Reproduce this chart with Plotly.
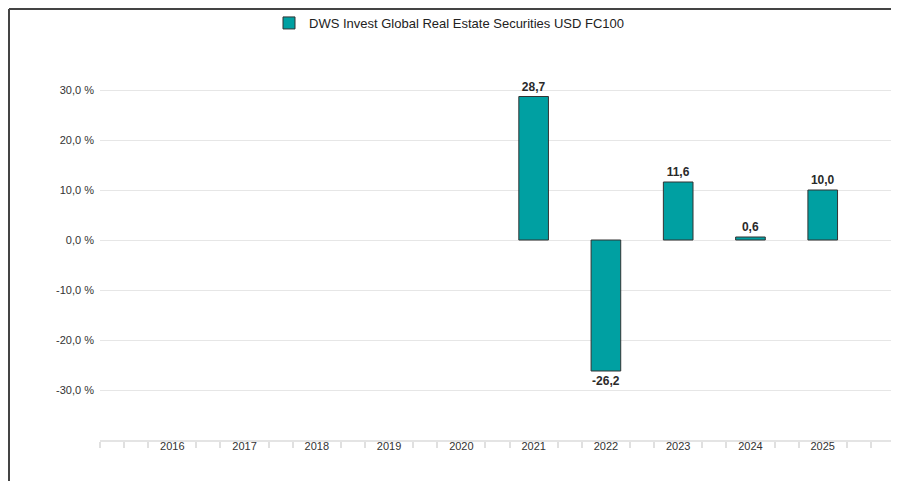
import plotly.graph_objects as go

years = [2016, 2017, 2018, 2019, 2020, 2021, 2022, 2023, 2024, 2025]
returns = [None, None, None, None, None, 28.7, -26.2, 11.6, 0.6, 10.0]
series_name = "DWS Invest Global Real Estate Securities USD FC100"
y_ticks = [-40, -30, -20, -10, 0, 10, 20, 30, 40]

y_text = ["" if abs(v) == 40 else f"{v:.1f}".replace(".", ",") + " %" for v in y_ticks]
x_idx = list(range(len(years)))
minor_vals = [(-3 + k) / 3 for k in range(0, 34) if (-3 + k) % 3 != 0 or (-3 + k) in (-3, 30)]

OFF = 8  # page body margin
W, H = 899 - OFF, 481 - OFF
L, R, T, B = 100 - OFF, 4, 40 - OFF, 41
pw, ph = W - L - R, H - T - B

fig = go.Figure()
fig.add_trace(go.Bar(
    x=x_idx, y=returns, name=series_name,
    marker=dict(color="#00A0A2", line=dict(color="#333333", width=1)),
    width=0.41,
    texttemplate="%{y:.1f}", textposition="outside", cliponaxis=False,
    textfont=dict(family="Liberation Sans, Arial, sans-serif", size=12, color="#2a2a2a", weight="bold"),
    showlegend=True,
))

fig.update_layout(
    width=W, height=H,
    margin=dict(l=L, r=R, t=T, b=B, autoexpand=False),
    paper_bgcolor="white", plot_bgcolor="white",
    separators=", ",
    font=dict(family="Liberation Sans, Arial, sans-serif", size=11, color="#333333"),
    showlegend=True,
    legend=dict(orientation="h", x=(269 - 100) / pw, xanchor="left", y=1 + 2 / ph, yanchor="bottom",
                font=dict(size=13, color="#222222"), itemwidth=30,
                bgcolor="rgba(0,0,0,0)"),
    xaxis=dict(range=[-1, 10], tickmode="array", tickvals=x_idx, ticktext=[str(y) for y in years],
               showgrid=False, zeroline=False, showline=True, linecolor="#e4e4e4", linewidth=2,
               ticks="", ticklabelstandoff=-5, automargin=False, tickfont=dict(size=11, color="#333333"),
               minor=dict(tickmode="array", tickvals=minor_vals, ticks="outside", ticklen=6,
                          tickcolor="#e0e0e0", tickwidth=1.5, showgrid=False)),
    yaxis=dict(range=[-40, 40], tickmode="array", tickvals=y_ticks, ticktext=y_text,
               showgrid=True, gridcolor="#e6e6e6", gridwidth=1, zeroline=False,
               showline=False, ticks="", ticklabelstandoff=5, automargin=False,
               tickfont=dict(size=11, color="#333333")),
    shapes=[
        dict(type="line", xref="paper", yref="paper",
             x0=(1 - L) / pw, x1=(W - L) / pw, y0=(T + ph - 1) / ph, y1=(T + ph - 1) / ph,
             line=dict(color="#444444", width=2)),
        dict(type="line", xref="paper", yref="paper",
             x0=(1 - L) / pw, x1=(1 - L) / pw, y0=(T + ph - 1) / ph, y1=-B / ph,
             line=dict(color="#444444", width=2)),
    ],
)

fig.write_html("out.html")
